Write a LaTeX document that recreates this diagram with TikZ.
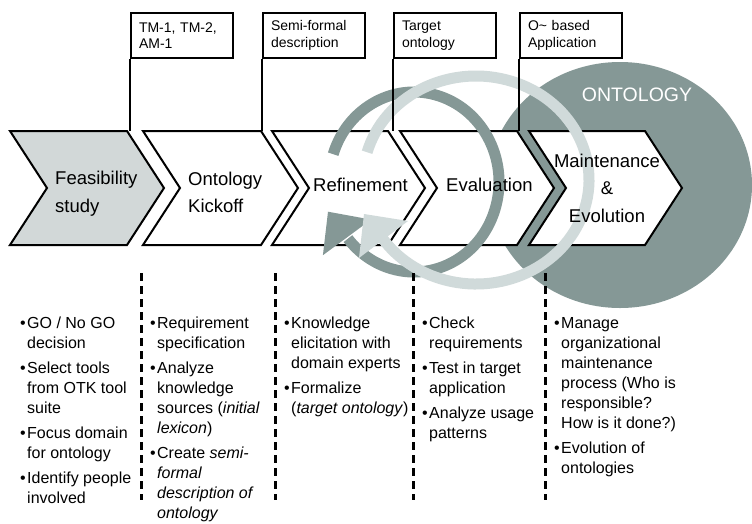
\documentclass[tikz,border=0pt]{standalone}
\usepackage{fontspec}
\setmainfont{Liberation Sans}
\definecolor{ontgray}{RGB}{133,152,150}
\definecolor{arclight}{RGB}{208,218,218}
\definecolor{feasfill}{RGB}{210,216,216}
\begin{document}
\begin{tikzpicture}[x=1pt,y=1pt,
  chev/.style={draw=black,line width=2pt,fill=white,line join=miter},
  flagbox/.style={draw=black,line width=2pt,fill=white,anchor=north west,minimum width=102pt,minimum height=45pt,text width=86pt,inner xsep=8pt,inner ysep=0pt,align=left,font=\fontsize{14}{16.5}\selectfont},
  flagline/.style={line width=2pt},
  sepline/.style={line width=3pt,dash pattern=on 8pt off 5pt},
  chevlabel/.style={inner sep=0pt,font=\fontsize{18.5}{27.5}\selectfont},
  bullist/.style={inner sep=0pt,anchor=north west,align=left,font=\fontsize{16}{20}\selectfont},
  darkarc/.style={draw=ontgray,line width=11pt},
  lightarc/.style={draw=arclight,line width=11pt},
]
\newcommand{\bu}{\llap{\textbullet\hspace{1.5pt}}}
\useasboundingbox[fill=white] (0,0) rectangle (752,-523);

% ontology ellipse
\fill[ontgray] (620,-185) ellipse [x radius=132, y radius=123];

% chevrons
\draw[chev,fill=feasfill] (10,-131) -- (127,-131) -- (164,-188) -- (127,-245) -- (10,-245) -- (47,-188) -- cycle;
\foreach \L/\R in {143/261,272/388,400/517,529/645}
  \draw[chev] (\L,-131) -- (\R,-131) -- ({\R+37},-188) -- (\R,-245) -- (\L,-245) -- ({\L+37},-188) -- cycle;

% circular arrows
\draw[darkarc,shift={(414,-182)}] (162:85 and 90) arc[start angle=162, end angle=-141, x radius=85, y radius=90];
\fill[ontgray] (328,-211.7) -- (371.1,-219.6) -- (322.9,-255.2) -- cycle;
\draw[lightarc,shift={(476,-180)}] (164.5:113 and 104) arc[start angle=164.5, end angle=-146, x radius=113, y radius=104];
\fill[arclight] (364,-214) -- (408,-221) -- (359,-258) -- cycle;

% flags
\node[flagbox] (f1) at (130,-12) {TM-1, TM-2,\\AM-1};
\node[flagbox] (f2) at (262,-12) {Semi-formal\\description};
\node[flagbox] (f3) at (393,-12) {Target\\ontology};
\node[flagbox] (f4) at (519,-12) {O\textasciitilde{} based\\Application};
\coordinate (t1) at (130,-131);
\coordinate (t2) at (262,-131);
\coordinate (t3) at (393,-131);
\coordinate (t4) at (519,-131);
\draw[flagline] (f1.south west) -- (t1);
\draw[flagline] (f2.south west) -- (t2);
\draw[flagline] (f3.south west) -- (t3);
\draw[flagline] (f4.south west) -- (t4);

% dashed separators
\foreach \x in {141,275,413,545}
  \draw[sepline] (\x,-273) -- (\x,-500);

% chevron labels
\node[chevlabel,anchor=west,align=left] (l1) at (55,-193.5) {Feasibility\\study};
\node[chevlabel,anchor=west,align=left] (l2) at (188,-192.5) {Ontology\\Kickoff};
\node[chevlabel,anchor=west] (l3) at (313,-185) {Refinement};
\node[chevlabel,anchor=west] (l4) at (446,-185) {Evaluation};
\node[chevlabel,align=center] (l5) at (607,-188) {Maintenance\\\&\\Evolution};
\node[inner sep=0pt,text=white,font=\fontsize{19.5}{22}\selectfont] (ont) at (637,-95) {ONTOLOGY};

% bullet lists
\node[bullist] (c1) at (27,-317) {\bu GO / No GO\\decision\\[5pt]\bu Select tools\\from OTK tool\\suite\\[5pt]\bu Focus domain\\for ontology\\[5pt]\bu Identify people\\involved};
\node[bullist] (c2) at (157,-317) {\bu Requirement\\specification\\[5pt]\bu Analyze\\knowledge\\sources (\textit{initial}\\\textit{lexicon})\\[5pt]\bu Create \textit{semi-}\\\textit{formal}\\\textit{description of}\\\textit{ontology}};
\node[bullist] (c3) at (291,-317) {\bu Knowledge\\elicitation with\\domain experts\\[5pt]\bu Formalize\\(\textit{target ontology})};
\node[bullist] (c4) at (429,-317) {\bu Check\\requirements\\[5pt]\bu Test in target\\application\\[5pt]\bu Analyze usage\\patterns};
\node[bullist] (c5) at (561,-317) {\bu Manage\\organizational\\maintenance\\process (Who is\\responsible?\\How is it done?)\\[5pt]\bu Evolution of\\ontologies};
\end{tikzpicture}
\end{document}
